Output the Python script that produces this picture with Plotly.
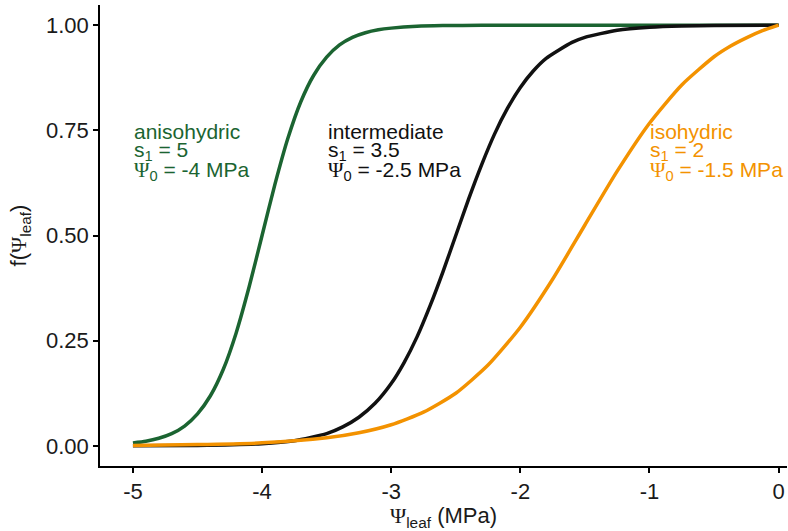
import plotly.graph_objects as go

# Data
x_aniso = [-5.0, -4.9, -4.8, -4.7, -4.6, -4.5, -4.4, -4.3, -4.2, -4.1, -4.0, -3.9, -3.8, -3.7, -3.6, -3.5, -3.4, -3.3, -3.2, -3.1, -3.0, -2.8, -2.6, -2.3, -2.0, -1.5, -1.0, -0.5, 0.0]
y_aniso = [0.007, 0.011, 0.018, 0.029, 0.047, 0.076, 0.119, 0.182, 0.269, 0.378, 0.500, 0.622, 0.731, 0.818, 0.881, 0.924, 0.953, 0.971, 0.982, 0.989, 0.993, 0.9975, 0.999, 0.9998, 1.000, 1.000, 1.000, 1.000, 1.000]

x_inter = [-5.0, -4.5, -4.0, -3.75, -3.5, -3.375, -3.25, -3.125, -3.0, -2.9, -2.8, -2.7, -2.6, -2.5, -2.4, -2.3, -2.2, -2.1, -2.0, -1.9, -1.8, -1.6, -1.5, -1.25, -1.0, -0.75, -0.5, 0.0]
y_inter = [0.000, 0.001, 0.005, 0.012, 0.029, 0.045, 0.068, 0.101, 0.148, 0.198, 0.259, 0.332, 0.413, 0.500, 0.587, 0.668, 0.741, 0.802, 0.852, 0.891, 0.921, 0.959, 0.971, 0.988, 0.995, 0.998, 0.999, 1.000]

x_iso = [-5.0, -4.5, -4.0, -3.5, -3.25, -3.0, -2.75, -2.5, -2.25, -2.0, -1.75, -1.5, -1.25, -1.0, -0.75, -0.5, -0.375, -0.25, -0.125, 0.0]
y_iso = [0.001, 0.003, 0.007, 0.019, 0.031, 0.050, 0.080, 0.125, 0.192, 0.282, 0.396, 0.525, 0.653, 0.767, 0.858, 0.925, 0.950, 0.970, 0.987, 1.000]

x_ticks = [-5, -4, -3, -2, -1, 0]
y_ticks = [0.0, 0.25, 0.5, 0.75, 1.0]
y_tick_labels = ["0.00", "0.25", "0.50", "0.75", "1.00"]

GREEN = "#1B6431"
BLACK = "#111111"
ORANGE = "#F39200"
PSI = '<span style="font-family:Liberation Serif">Ψ</span>'
SANS = "Liberation Sans, Arial"

fig = go.Figure()
for xs, ys, c in [(x_aniso, y_aniso, GREEN), (x_inter, y_inter, BLACK), (x_iso, y_iso, ORANGE)]:
    fig.add_trace(go.Scatter(x=xs, y=ys, mode="lines",
                             line=dict(color=c, width=3.5, shape="spline", smoothing=0.6),
                             showlegend=False, hoverinfo="skip"))

labels = [
    (-5.0, GREEN, "anisohydric", "5", "-4"),
    (-3.5, BLACK, "intermediate", "3.5", "-2.5"),
    (-1.0, ORANGE, "isohydric", "2", "-1.5"),
]
line_y = [0.748, 0.700, 0.653]
for x, c, name, s, p in labels:
    texts = [name, f"s<sub>1</sub> = {s}", f"{PSI}<sub>0</sub> = {p} MPa"]
    for ty, t in zip(line_y, texts):
        fig.add_annotation(
            x=x, y=ty, xref="x", yref="y", xanchor="left", yanchor="middle",
            align="left", showarrow=False, text=t, borderpad=0,
            font=dict(family=SANS, size=21, color=c),
        )

axis_common = dict(showline=True, linecolor="black", linewidth=1.5, ticks="outside",
                   ticklen=5, tickwidth=1.5, tickcolor="black", showgrid=False, zeroline=False,
                   automargin=False,
                   tickfont=dict(family=SANS, size=22, color="#1a1a1a"))

fig.update_layout(
    width=788, height=531,
    margin=dict(l=100, r=1, t=5, b=65, autoexpand=False),
    plot_bgcolor="white", paper_bgcolor="white",
    xaxis=dict(range=[-5.255, 0.065], tickvals=x_ticks, ticktext=[str(v) for v in x_ticks],
               title=dict(text=f"{PSI}<sub>leaf</sub> (MPa)", standoff=4,
                          font=dict(family=SANS, size=22, color="#1a1a1a")),
               **axis_common),
    yaxis=dict(range=[-0.048, 1.048], tickvals=y_ticks, ticktext=y_tick_labels,
               title=dict(text=f"f({PSI}<sub>leaf</sub>)", standoff=13,
                          font=dict(family=SANS, size=22, color="#1a1a1a")),
               **axis_common),
)

fig.write_html("out.html", config={"displayModeBar": False},
               post_script="document.body.style.margin='0';")
